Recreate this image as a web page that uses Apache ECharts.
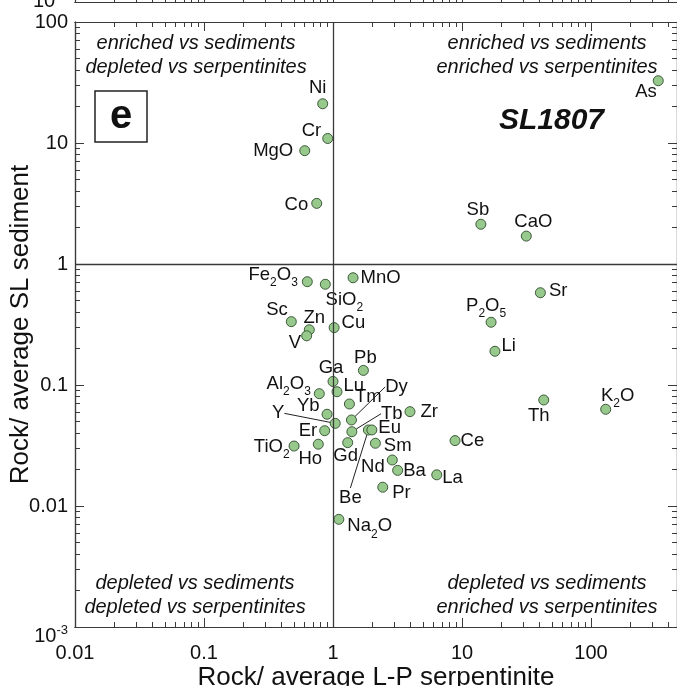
<!DOCTYPE html>
<html><head><meta charset="utf-8">
<script src="https://cdn.jsdelivr.net/npm/echarts@6/dist/echarts.min.js"></script>
<style>html,body{margin:0;padding:0;background:#fff}#c{width:677px;height:686px}</style>
</head><body><div id="c"></div>
<script>
// ---- data ----
const names = ['Ni','Cr','MgO','Co','Fe2O3','SiO2','MnO','Sc','Zn','V','Cu','Pb','Ga','Al2O3','Lu','Tm','Dy','Yb','Y','Tb','Er','Be','Eu','Zr','TiO2','Ho','Gd','Sm','Nd','Ba','La','Pr','Na2O','Ce','Sb','CaO','Sr','P2O5','Li','Th','K2O','As'];
const rockVsSerpentinite = [0.832,0.910,0.604,0.748,0.632,0.872,1.43,0.475,0.655,0.625,1.02,1.72,1.00,0.783,1.074,1.34,1.39,0.899,1.04,1.40,0.862,1.88,2.00,3.95,0.499,0.769,1.30,2.13,2.88,3.17,6.37,2.43,1.11,8.83,14.0,31.5,40.5,16.8,18.0,43.0,130,332];
const rockVsSediment = [21.1,10.9,8.64,3.17,0.714,0.680,0.770,0.334,0.286,0.255,0.298,0.132,0.107,0.0848,0.0880,0.0697,0.0514,0.0573,0.0482,0.0411,0.0419,0.0425,0.0425,0.0602,0.0313,0.0324,0.0334,0.0330,0.0240,0.0197,0.0181,0.0143,0.00776,0.0347,2.13,1.70,0.579,0.330,0.190,0.0752,0.0630,32.7];
const xMajorTicks = [0.01,0.1,1,10,100];
const yMajorTicks = [0.001,0.01,0.1,1,10,100];
const xMinorTicks = [0.02,0.03,0.04,0.05,0.06,0.07,0.08,0.09,0.2,0.3,0.4,0.5,0.6,0.7,0.8,0.9,2,3,4,5,6,7,8,9,20,30,40,50,60,70,80,90,200,300,400];
const yMinorTicks = [0.002,0.003,0.004,0.005,0.006,0.007,0.008,0.009,0.02,0.03,0.04,0.05,0.06,0.07,0.08,0.09,0.2,0.3,0.4,0.5,0.6,0.7,0.8,0.9,2,3,4,5,6,7,8,9,20,30,40,50,60,70,80,90];
const xTitle = 'Rock/ average L-P serpentinite';
const yTitle = 'Rock/ average SL sediment';
const quadrantNotes = [
  'enriched vs sediments\ndepleted vs serpentinites',
  'enriched vs sediments\nenriched vs serpentinites',
  'depleted vs sediments\ndepleted vs serpentinites',
  'depleted vs sediments\nenriched vs serpentinites'
];
const panelLetter = 'e';
const sampleName = 'SL1807';

// ---- label placement (style only): [side, dx, dy] ----
const labelPlace = {
  Ni:['top',-5,3], Cr:['left',2,-8], MgO:['left',-3,0], Co:['left',0,2], Fe2O3:['left',-1,-7],
  SiO2:['bottom',19,-7], MnO:['right',-1,0], Sc:['left',5,-12], Zn:['top',5,7], V:['left',3,7],
  Cu:['right',-1,-5], Pb:['top',2,6], Ga:['top',-2,5], Al2O3:['left',0,-10], Lu:['right',-2,-6],
  Tm:['right',-3,-7], Yb:['left',1,-8], Er:['left',1,0], Eu:['right',-2,-2], Zr:['right',2,0],
  TiO2:['left',4,1], Ho:['bottom',-8,-4], Gd:['bottom',-2,-5], Sm:['right',0,3], Nd:['left',1,7],
  Ba:['right',-3,1], La:['right',-3,3], Pr:['right',1,6], Na2O:['right',0,7], Ce:['right',-3,0],
  Sb:['top',-3,4], CaO:['top',7,4], Sr:['right',0,-2], P2O5:['top',-5,6], Li:['right',-2,-5],
  Th:['bottom',-5,-3], K2O:['top',12,9], As:['left',7,11]
};
const leaderShift = { Y:[-57,-10], Dy:[45,-33], Tb:[40,-18], Be:[-18,68] };

const FONT = '"Liberation Sans", Arial, sans-serif';
const AX = '#3a3a3a';
function richName(n){ return n.replace(/(\d)/g, '{s|$1}'); }
function fmtTick(v){
  const e = Math.round(Math.log10(v));
  if (e <= -3) return '{b|10}{sup|' + e + '}';
  return e < 0 ? v.toFixed(-e) : String(Math.round(v));
}

const data = names.map((n,i) => {
  const item = { name:n, value:[rockVsSerpentinite[i], rockVsSediment[i]] };
  const pl = labelPlace[n];
  if (pl) item.label = { position: pl[0] };
  if (leaderShift[n]) {
    item.label = { position:'inside' };
    item.labelLine = { show:true, lineStyle:{ color:'#222', width:1 } };
  }
  if (/\d/.test(n)) item.label = Object.assign(item.label || {}, { lineHeight: 28 });
  return item;
});

const X_MAX = 464;
const xBase = { type:'log', logBase:10, min:0.01, max:X_MAX, splitLine:{show:false},
  axisLine:{show:true, onZero:false, lineStyle:{color:AX, width:1.2}} };
const yBase = { type:'log', logBase:10, min:0.001, max:100, splitLine:{show:false},
  axisLine:{show:true, onZero:false, lineStyle:{color:AX, width:1.2}} };
function ticks(vals, len){ return { show:true, inside:true, length:len, customValues:vals, lineStyle:{color:AX, width:1} }; }
const noLabel = { show:false };

const option = {
  animation:false,
  backgroundColor:'#fff',
  grid:[
    { left:75, right:0, top:22, height:605, containLabel:false, outerBoundsMode:'none' },
    { left:75, right:0, top:-100, height:102, containLabel:false, outerBoundsMode:'none' }
  ],
  xAxis:[
    Object.assign({}, xBase, { gridIndex:0, position:'bottom', axisTick:ticks(xMajorTicks,9),
      axisLabel:{ customValues:xMajorTicks, formatter:fmtTick, fontSize:20, fontFamily:FONT, color:'#111', margin:16 },
      name:xTitle, nameLocation:'middle', nameGap:38, nameMoveOverlap:false,
      nameTextStyle:{ fontSize:26, fontFamily:FONT, color:'#111' } }),
    Object.assign({}, xBase, { gridIndex:0, position:'bottom', axisTick:ticks(xMinorTicks,5), axisLabel:noLabel }),
    Object.assign({}, xBase, { gridIndex:0, position:'top', axisTick:ticks(xMajorTicks,9), axisLabel:noLabel }),
    Object.assign({}, xBase, { gridIndex:0, position:'top', axisTick:ticks(xMinorTicks,5), axisLabel:noLabel }),
    Object.assign({}, xBase, { gridIndex:1, position:'bottom', axisTick:ticks(xMajorTicks,9), axisLabel:noLabel }),
    Object.assign({}, xBase, { gridIndex:1, position:'bottom', axisTick:ticks(xMinorTicks,5), axisLabel:noLabel })
  ],
  yAxis:[
    Object.assign({}, yBase, { gridIndex:0, position:'left', axisTick:ticks(yMajorTicks,9),
      axisLabel:{ customValues:yMajorTicks, formatter:fmtTick, fontSize:20, fontFamily:FONT, color:'#111', margin:7,
        rich:{ b:{ fontSize:20, fontFamily:FONT, color:'#111', lineHeight:38, verticalAlign:'bottom' },
               sup:{ fontSize:13, fontFamily:FONT, color:'#111', lineHeight:13, verticalAlign:'top', padding:[16,0,0,0] } } },
      name:yTitle, nameLocation:'middle', nameGap:41, nameMoveOverlap:false,
      nameTextStyle:{ fontSize:26, fontFamily:FONT, color:'#111' } }),
    Object.assign({}, yBase, { gridIndex:0, position:'left', axisTick:ticks(yMinorTicks,5), axisLabel:noLabel }),
    Object.assign({}, yBase, { gridIndex:0, position:'right', axisTick:ticks(yMajorTicks,9), axisLabel:noLabel }),
    Object.assign({}, yBase, { gridIndex:0, position:'right', axisTick:ticks(yMinorTicks,5), axisLabel:noLabel }),
    Object.assign({}, yBase, { gridIndex:1, position:'left', axisTick:{show:false}, axisLabel:noLabel })
  ],
  series:[{
    type:'scatter', xAxisIndex:0, yAxisIndex:0, symbol:'circle', symbolSize:10,
    itemStyle:{ color:'#98c98c', borderColor:'#3c5a3a', borderWidth:1, opacity:1 },
    label:{ show:true, formatter:p => richName(p.name), fontSize:18.5, fontFamily:FONT, color:'#111',
      distance:3, lineHeight:20,
      rich:{ s:{ fontSize:12, fontFamily:FONT, color:'#111', lineHeight:12, verticalAlign:'bottom' } } },
    labelLayout: function(params){
      const n = names[params.dataIndex];
      const s = leaderShift[n];
      if (s) return { dx:s[0], dy:s[1] };
      const pl = labelPlace[n];
      return pl ? { dx:pl[1], dy:pl[2] } : {};
    },
    emphasis:{ disabled:true },
    data:data,
    markLine:{ silent:true, symbol:['none','none'], label:{show:false},
      lineStyle:{ color:'#3a3a3a', width:1.3, type:'solid' }, emphasis:{disabled:true},
      data:[ { xAxis:1 }, { yAxis:1 } ] },
    z:3
  }],
  graphic:[
    { type:'text', x:196, y:31, style:{ text:quadrantNotes[0], font:'italic 20px '+FONT, textAlign:'center', textVerticalAlign:'top', lineHeight:24, fill:'#111' } },
    { type:'text', x:547, y:31, style:{ text:quadrantNotes[1], font:'italic 20px '+FONT, textAlign:'center', textVerticalAlign:'top', lineHeight:24, fill:'#111' } },
    { type:'text', x:195, y:571, style:{ text:quadrantNotes[2], font:'italic 20px '+FONT, textAlign:'center', textVerticalAlign:'top', lineHeight:24, fill:'#111' } },
    { type:'text', x:547, y:571, style:{ text:quadrantNotes[3], font:'italic 20px '+FONT, textAlign:'center', textVerticalAlign:'top', lineHeight:24, fill:'#111' } },
    { type:'rect', shape:{ x:95, y:91, width:52, height:51 }, style:{ fill:'#fff', stroke:'#222', lineWidth:1.5 }, z:10 },
    { type:'text', x:121, y:117, z:11, style:{ text:panelLetter, font:'bold 40px '+FONT, textAlign:'center', textVerticalAlign:'middle', fill:'#111' } },
    { type:'text', x:604, y:121, style:{ text:sampleName, font:'bold italic 30px '+FONT, textAlign:'right', textVerticalAlign:'middle', fill:'#111' } },
    { type:'text', x:44, y:11, style:{ text:'10', font:'20px '+FONT, textAlign:'center', textVerticalAlign:'bottom', fill:'#111' } }
  ]
};
const chart = echarts.init(document.getElementById('c'), null, { renderer:'canvas' });
chart.setOption(option);
</script>
</body></html>
